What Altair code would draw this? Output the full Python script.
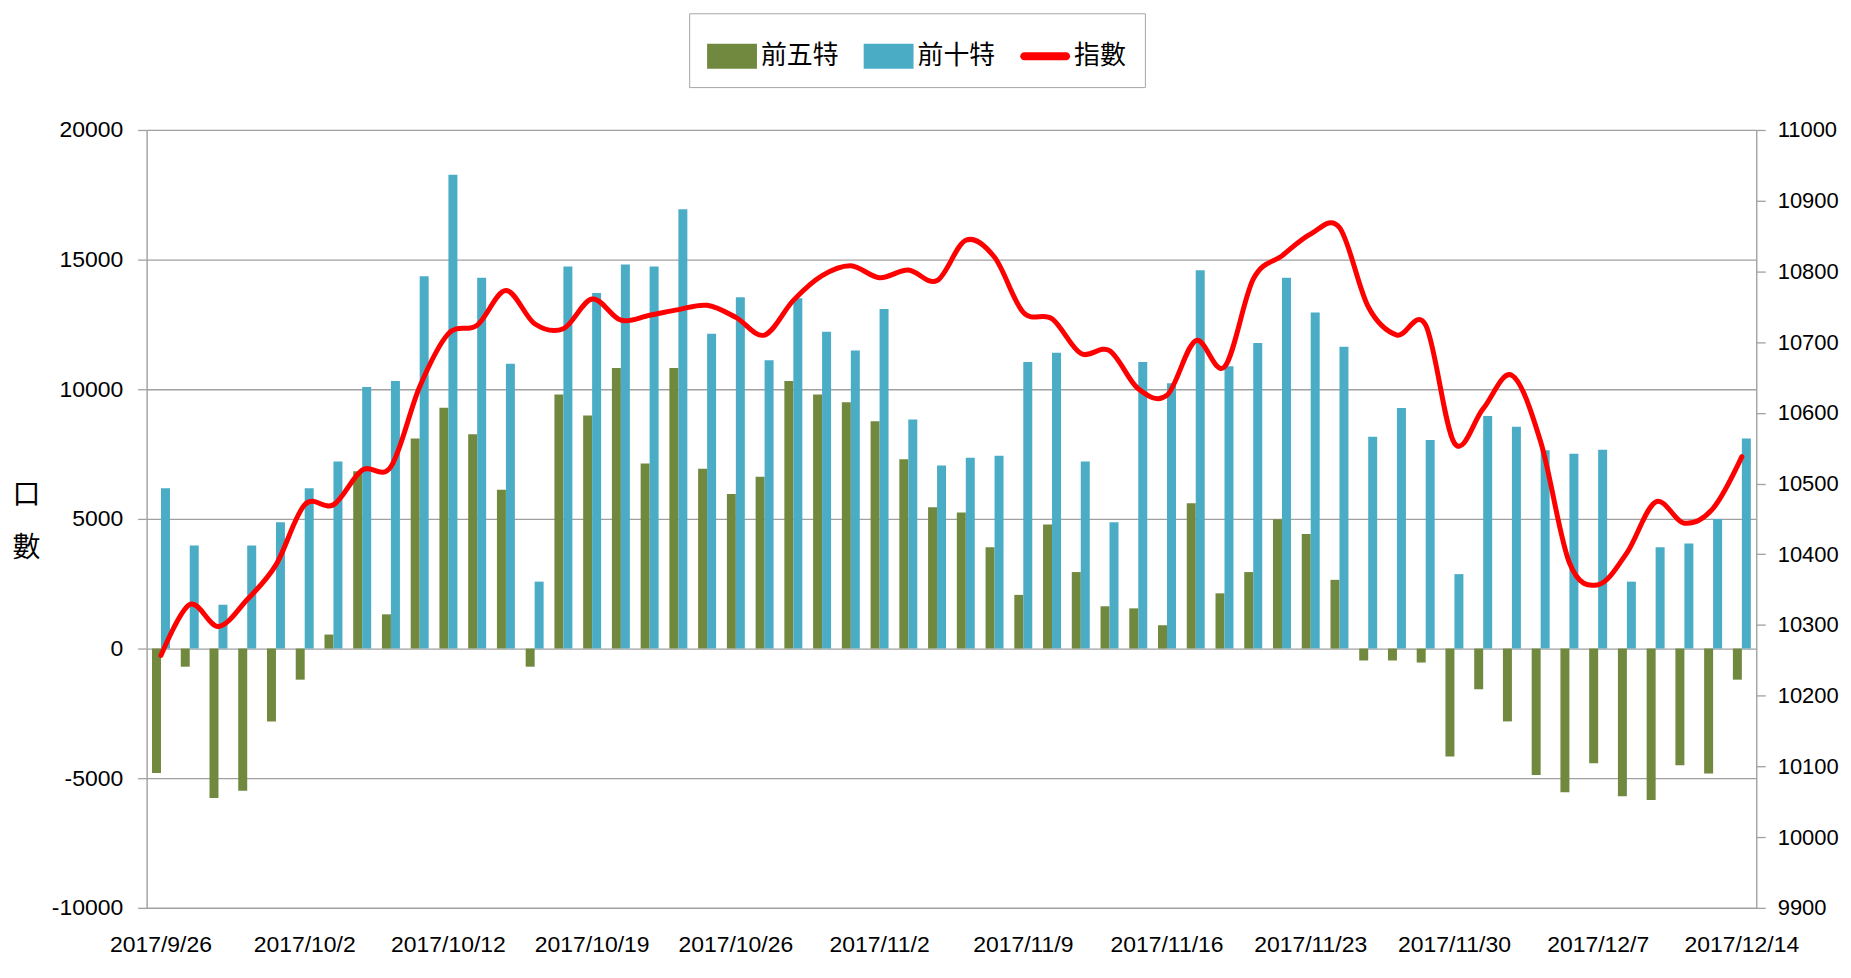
import altair as alt
import pandas as pd

dates = ["2017/9/26","2017/9/27","2017/9/28","2017/9/29","2017/9/30","2017/10/2","2017/10/3","2017/10/5","2017/10/6","2017/10/11",
         "2017/10/12","2017/10/13","2017/10/16","2017/10/17","2017/10/18","2017/10/19","2017/10/20","2017/10/23","2017/10/24","2017/10/25",
         "2017/10/26","2017/10/27","2017/10/30","2017/10/31","2017/11/1","2017/11/2","2017/11/3","2017/11/6","2017/11/7","2017/11/8",
         "2017/11/9","2017/11/10","2017/11/13","2017/11/14","2017/11/15","2017/11/16","2017/11/17","2017/11/20","2017/11/21","2017/11/22",
         "2017/11/23","2017/11/24","2017/11/27","2017/11/28","2017/11/29","2017/11/30","2017/12/1","2017/12/4","2017/12/5","2017/12/6",
         "2017/12/7","2017/12/8","2017/12/11","2017/12/12","2017/12/13","2017/12/14"]

top5 = [-4800, -700, -5760, -5480, -2810, -1200, 540, 6840, 1320, 8100,
        9290, 8260, 6120, -700, 9800, 8990, 10820, 7140, 10820, 6930,
        5960, 6630, 10320, 9800, 9500, 8770, 7300, 5450, 5250, 3910,
        2070, 4780, 2950, 1630, 1550, 900, 5600, 2130, 2950, 4990,
        4420, 2650, -460, -460, -540, -4160, -1570, -2810, -4880, -5540,
        -4420, -5700, -5840, -4500, -4820, -1200]

top10 = [6180, 3970, 1690, 3970, 4870, 6180, 7210, 10090, 10320, 14360,
         18270, 14300, 10980, 2580, 14730, 13710, 14810, 14730, 16940, 12140,
         13550, 11120, 13510, 12220, 11490, 13100, 8830, 7060, 7360, 7440,
         11050, 11410, 7210, 4870, 11050, 10230, 14590, 10890, 11780, 14300,
         12960, 11640, 8170, 9280, 8040, 2870, 8970, 8550, 7650, 7510,
         7670, 2580, 3910, 4050, 5000, 8100]

index_vals = [10257, 10329, 10298, 10336, 10385, 10470, 10470, 10519, 10524, 10637,
              10712, 10724, 10773, 10726, 10719, 10761, 10731, 10738, 10746, 10752,
              10735, 10710, 10759, 10794, 10808, 10791, 10802, 10787, 10844, 10820,
              10742, 10733, 10684, 10688, 10634, 10625, 10702, 10665, 10789, 10822,
              10853, 10862, 10750, 10710, 10724, 10557, 10606, 10653, 10559, 10388,
              10357, 10402, 10474, 10444, 10465, 10538]

series_names = ["前五特", "前十特", "指數"]
series_colors = ["#71893F", "#4BACC6", "#FF0000"]

left_ticks = [-10000, -5000, 0, 5000, 10000, 15000, 20000]
right_ticks = [9900, 10000, 10100, 10200, 10300, 10400, 10500, 10600, 10700, 10800, 10900, 11000]
x_label_values = dates[::5]

bars = pd.DataFrame(
    [{"date": d, "series": series_names[0], "value": v} for d, v in zip(dates, top5)]
    + [{"date": d, "series": series_names[1], "value": v} for d, v in zip(dates, top10)]
)
line = pd.DataFrame({"date": dates, "series": series_names[2], "index": index_vals})
legend_df = pd.DataFrame({"series": series_names})

NUMFONT = "Liberation Sans, Arial, sans-serif"
CJK = "Noto Sans CJK TC, Noto Sans CJK SC, sans-serif"
GRID = "#A0A0A0"

RECT = "M-1,-0.5H1V0.5H-1Z"
PILL = "M-0.84,-0.16H0.84A0.16,0.16 0 0 1 0.84,0.16H-0.84A0.16,0.16 0 0 1 -0.84,-0.16Z"

legend = alt.Legend(
    title=None, orient="none", legendX=544, legendY=-117, direction="horizontal",
    labelFont=CJK, labelFontSize=26, labelColor="#000000", labelOffset=4,
    symbolSize=2500, symbolOpacity=1, symbolStrokeWidth=0, columnPadding=24, padding=18,
    strokeColor="#A6A6A6", fillColor="white",
)

color_scale = alt.Scale(domain=series_names, range=series_colors)

x_enc = alt.X(
    "date:N", sort=dates,
    scale=alt.Scale(paddingInner=0.375, paddingOuter=0.1875),
    axis=alt.Axis(values=x_label_values, title=None, labelAngle=0, ticks=False,
                  domainColor=GRID, domainWidth=1.3, labelFont=NUMFONT, labelFontSize=23,
                  labelColor="#000000", labelPadding=26, labelOverlap=False, labelFlush=False),
)

bar_layer = alt.Chart(bars).mark_bar().encode(
    x=x_enc,
    xOffset=alt.XOffset("series:N", sort=series_names[:2], scale=alt.Scale(domain=series_names[:2], paddingInner=0, paddingOuter=0)),
    y=alt.Y("value:Q", scale=alt.Scale(domain=[-10000, 20000], nice=False),
            axis=alt.Axis(values=left_ticks, grid=True, gridColor=GRID, gridWidth=1.3,
                          domainColor=GRID, domainWidth=1.3, tickColor=GRID, tickWidth=1.3, tickSize=9,
                          labelFont=NUMFONT, labelFontSize=23, labelColor="#000000", labelPadding=15,
                          labelExpr="'' + datum.value",
                          title=["口", "數"], titleAngle=0, titleFont=CJK, titleFontSize=28,
                          titleFontWeight="normal", titleColor="#000000", titleX=-121, titleY=367,
                          titleAlign="center", titleBaseline="middle", titleLineHeight=53)),
    color=alt.Color("series:N", scale=color_scale, legend=None),
)

line_layer = alt.Chart(line).mark_line(interpolate="cardinal", strokeWidth=5, strokeJoin="round", strokeCap="round").encode(
    x=alt.X("date:N", sort=dates),
    y=alt.Y("index:Q", scale=alt.Scale(domain=[9900, 11000], nice=False, zero=False),
            axis=alt.Axis(orient="right", values=right_ticks, grid=False,
                          domainColor=GRID, domainWidth=1.3, tickColor=GRID, tickWidth=1.3, tickSize=9,
                          labelFont=NUMFONT, labelFontSize=22, labelColor="#000000", labelPadding=12,
                          labelExpr="'' + datum.value", title=None)),
    color=alt.Color("series:N", scale=color_scale, legend=None),
)

legend_layer = alt.Chart(legend_df).mark_point(filled=True, opacity=0, size=1).encode(
    color=alt.Color("series:N", scale=color_scale, legend=legend),
    shape=alt.Shape("series:N", scale=alt.Scale(domain=series_names, range=[RECT, RECT, PILL]), legend=legend),
)

chart = alt.layer(bar_layer, line_layer, legend_layer).resolve_scale(
    y="independent", color="independent", shape="independent"
).properties(
    width=1614, height=780,
    autosize=alt.AutoSizeParams(type="none"),
    padding={"left": 139, "top": 121, "right": 87, "bottom": 50},
).configure_view(stroke=None).configure(background="white")

chart.save("out.html", embed_options={"renderer": "svg", "actions": False})
